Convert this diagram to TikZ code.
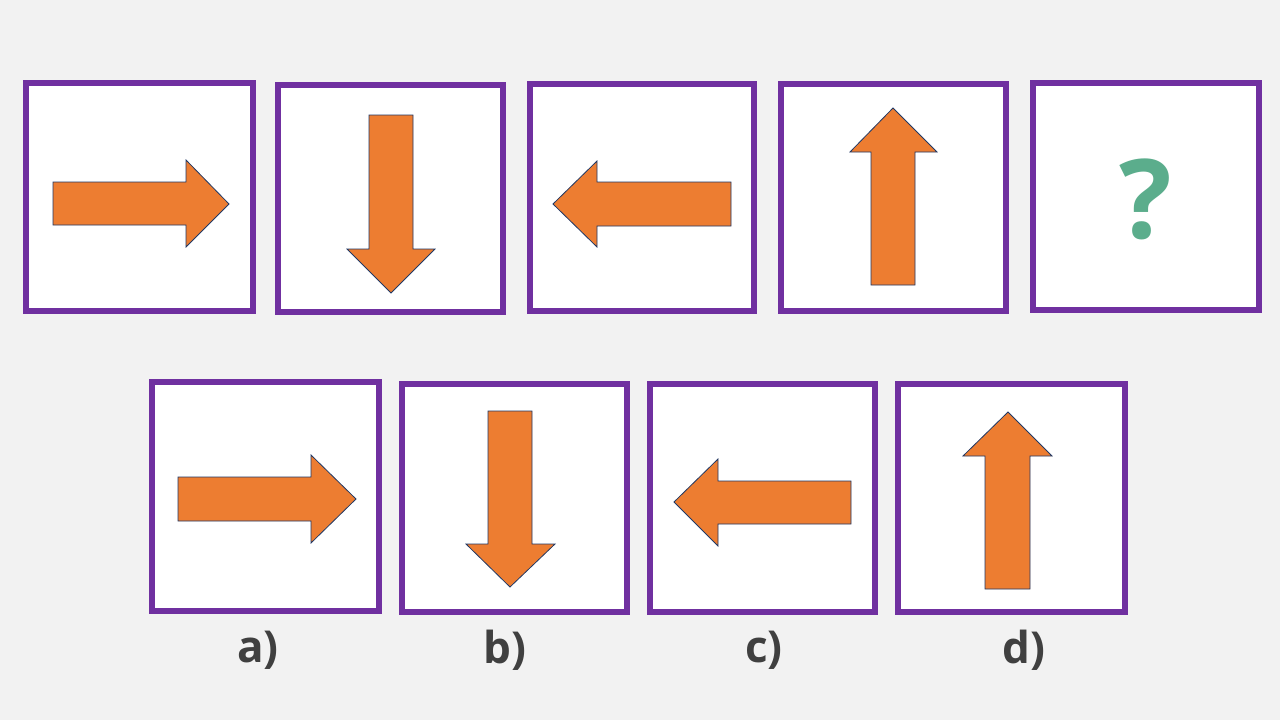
\documentclass[tikz,border=0pt]{standalone}
\usepackage{fontspec}
\setmainfont{Open Sans}
\definecolor{bg}{HTML}{F2F2F2}
\definecolor{frame}{HTML}{7030A0}
\definecolor{arrowfill}{HTML}{ED7D31}
\definecolor{arrowline}{HTML}{203864}
\definecolor{qgreen}{HTML}{5BAD8C}
\definecolor{lbl}{HTML}{404040}
\tikzset{
  card/.style={draw=frame, line width=6pt, fill=white, inner sep=0pt},
  shapearrow/.style={fill=arrowfill, draw=arrowline, line width=0.8pt, line join=miter},
  choicelabel/.style={text=lbl, font=\fontsize{44}{50}\selectfont\bfseries, inner sep=0pt},
}
\begin{document}
\begin{tikzpicture}[x=1pt,y=-1pt]
\fill[bg] (0,0) rectangle (1280,720);
\useasboundingbox (0,0) rectangle (1280,720);
% top row
\draw[card] (26,83) rectangle (253,311);
\draw[card] (278,85) rectangle (503,312);
\draw[card] (530,84) rectangle (754,311);
\draw[card] (781,84) rectangle (1006,311);
\draw[card] (1033,83) rectangle (1259,310);
% bottom row
\draw[card] (152,382) rectangle (379,611);
\draw[card] (402,384) rectangle (627,612);
\draw[card] (650,384) rectangle (875,612);
\draw[card] (898,384) rectangle (1125,612);
% top arrows
\draw[shapearrow] (53,182) -- (186,182) -- (186,160) -- (229,204) -- (186,247) -- (186,225) -- (53,225) -- cycle;
\draw[shapearrow] (369,115) -- (413,115) -- (413,249) -- (435,249) -- (391,293) -- (347,249) -- (369,249) -- cycle;
\draw[shapearrow] (731,182) -- (597,182) -- (597,161) -- (553,204) -- (597,247) -- (597,226) -- (731,226) -- cycle;
\draw[shapearrow] (871,285) -- (871,152) -- (850,152) -- (893,108) -- (937,152) -- (915,152) -- (915,285) -- cycle;
\node[text=qgreen, font=\fontsize{110}{112}\selectfont\bfseries, inner sep=0pt] (q) at (1146,199) {?};
% bottom arrows
\draw[shapearrow] (178,477) -- (311,477) -- (311,455) -- (356,499) -- (311,543) -- (311,521) -- (178,521) -- cycle;
\draw[shapearrow] (488,411) -- (532,411) -- (532,544) -- (555,544) -- (510,587) -- (466,544) -- (488,544) -- cycle;
\draw[shapearrow] (851,481) -- (718,481) -- (718,459) -- (674,502) -- (718,546) -- (718,524) -- (851,524) -- cycle;
\draw[shapearrow] (985,589) -- (985,456) -- (963,456) -- (1008,412) -- (1052,456) -- (1030,456) -- (1030,589) -- cycle;
% labels
\node[choicelabel] (la) at (258,650) {a)};
\node[choicelabel] (lb) at (505,650) {b)};
\node[choicelabel] (lc) at (764,650) {c)};
\node[choicelabel] (ld) at (1024,650) {d)};
\end{tikzpicture}
\end{document}
